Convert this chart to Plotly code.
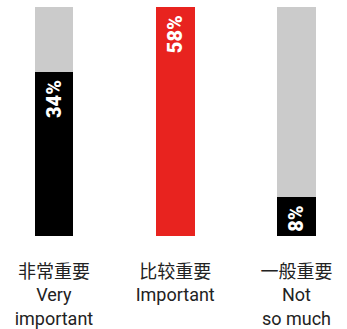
import plotly.graph_objects as go

# Survey shares per importance level
categories_cn = ["非常重要", "比较重要", "一般重要"]
categories_en = ["Very<br>important", "Important", "Not<br>so much"]
shares = [34, 58, 8]
bar_colors = ["#000000", "#E8231F", "#000000"]

Y_MAX = 47.5  # visible top of the value axis; taller bars are cut at the top
x_pos = list(range(len(shares)))
tick_labels = [f"{cn}<br>{en}" for cn, en in zip(categories_cn, categories_en)]

fig = go.Figure()

# grey background tracks
fig.add_trace(go.Bar(
    x=x_pos, y=[Y_MAX] * len(shares), width=0.32,
    marker=dict(color="#CBCBCB", line=dict(width=0)),
    hoverinfo="skip", showlegend=False,
))

# value bars
fig.add_trace(go.Bar(
    x=x_pos, y=shares, width=0.32,
    marker=dict(color=bar_colors, line=dict(width=0)),
    showlegend=False,
))

# rotated value labels near the top of each bar
for i, v in enumerate(shares):
    fig.add_annotation(
        x=x_pos[i], y=min(v, Y_MAX), xref="x", yref="y",
        text=f"{v}%", textangle=-90, showarrow=False,
        yanchor="top", xanchor="center", yshift=-6,
        font=dict(family="Roboto", size=20, color="#FFFFFF", weight=900),
    )

fig.update_layout(
    width=347, height=329,
    margin=dict(l=0, r=0, t=7, b=90),
    barmode="overlay", bargap=0,
    paper_bgcolor="white", plot_bgcolor="white",
    xaxis=dict(
        range=[-0.445, 2.417], tickvals=x_pos, ticktext=tick_labels,
        showgrid=False, zeroline=False, showline=False, ticks="",
        ticklabelstandoff=23,
        tickfont=dict(family="Roboto, Noto Sans CJK SC", size=18, color="#222222"),
        fixedrange=True,
    ),
    yaxis=dict(range=[0, Y_MAX], visible=False, fixedrange=True),
)

fig.write_html("out.html")
